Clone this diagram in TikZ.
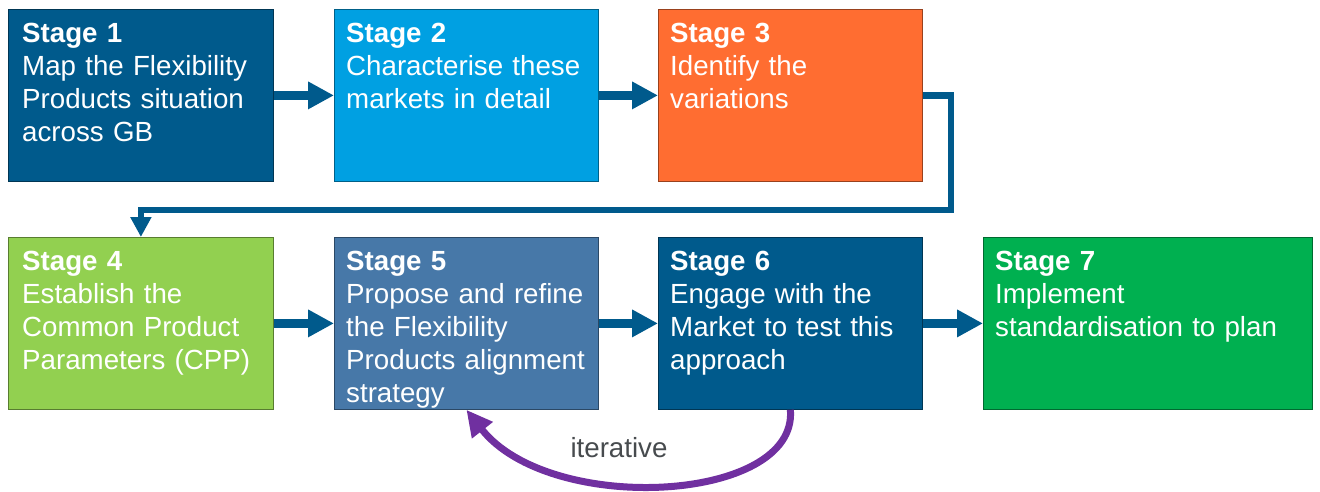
\documentclass[tikz,border=0pt]{standalone}
\usepackage{fontspec}
\setmainfont{Liberation Sans}
\usetikzlibrary{arrows.meta}
\definecolor{cDark}{HTML}{005A8C}
\definecolor{cLight}{HTML}{00A0E2}
\definecolor{cOrange}{HTML}{FF6D31}
\definecolor{cLime}{HTML}{92D050}
\definecolor{cSteel}{HTML}{4778A8}
\definecolor{cGreen}{HTML}{00B050}
\definecolor{cArrow}{HTML}{005A8C}
\definecolor{cPurple}{HTML}{7030A0}
\definecolor{cGray}{HTML}{474B4E}
\begin{document}
\begin{tikzpicture}[x=1pt,y=-1pt,
  stagebox/.style={draw=#1!60!black, fill=#1, line width=0.8pt, anchor=north west, inner sep=0pt, minimum height=172pt},
  stagetext/.style={anchor=north west, inner sep=0pt, text=white, text width=300pt, align=left, font=\fontsize{27.7}{33}\selectfont},
  flow/.style={draw=cArrow, line width=9pt, -{Triangle[length=26pt,width=26pt]}},
  conn/.style={draw=cArrow, line width=6.5pt, -{Triangle[length=20pt,width=20pt]}},
  iter/.style={draw=cPurple, line width=7pt, -{Triangle[length=26pt,width=25pt]}},
  itlabel/.style={anchor=base, inner sep=0pt, text=cGray, font=\fontsize{27.7}{33}\selectfont}]
\useasboundingbox (0,0) rectangle (1320,491);
% boxes
\node[stagebox=cDark, minimum width=265pt] (s1) at (8,9) {};
\node[stagebox=cLight, minimum width=264pt] (s2) at (334,9) {};
\node[stagebox=cOrange, minimum width=264pt] (s3) at (658,9) {};
\node[stagebox=cLime, minimum width=265pt] (s4) at (8,237) {};
\node[stagebox=cSteel, minimum width=264pt] (s5) at (334,237) {};
\node[stagebox=cDark, minimum width=264pt] (s6) at (658,237) {};
\node[stagebox=cGreen, minimum width=329pt] (s7) at (983,237) {};
% texts
\node[stagetext] (t1) at ([xshift=14pt]s1.north west) {\rule{0pt}{33pt}\textbf{Stage 1}\\Map the Flexibility\\Products situation\\across GB};
\node[stagetext] (t2) at ([xshift=12pt]s2.north west) {\rule{0pt}{33pt}\textbf{Stage 2}\\Characterise these\\markets in detail};
\node[stagetext] (t3) at ([xshift=12pt]s3.north west) {\rule{0pt}{33pt}\textbf{Stage 3}\\Identify the\\variations};
\node[stagetext] (t4) at ([xshift=14pt]s4.north west) {\rule{0pt}{33pt}\textbf{Stage 4}\\Establish the\\Common Product\\Parameters (CPP)};
\node[stagetext] (t5) at ([xshift=12pt]s5.north west) {\rule{0pt}{33pt}\textbf{Stage 5}\\Propose and refine\\the Flexibility\\Products alignment\\strategy};
\node[stagetext] (t6) at ([xshift=12pt]s6.north west) {\rule{0pt}{33pt}\textbf{Stage 6}\\Engage with the\\Market to test this\\approach};
\node[stagetext] (t7) at ([xshift=12pt]s7.north west) {\rule{0pt}{33pt}\textbf{Stage 7}\\Implement\\standardisation to plan};
% arrows
\draw[flow] (s1.east) -- (s2.west);
\draw[flow] (s2.east) -- (s3.west);
\draw[flow] (s4.east) -- (s5.west);
\draw[flow] (s5.east) -- (s6.west);
\draw[flow] (s6.east) -- (s7.west);
\coordinate (c1) at (951,210);
\draw[conn] (s3.east) -| (c1) -| (s4.north);
\draw[iter] (s6.south) .. controls (798,503) and (550,516) .. (s5.south);
\node[itlabel] (lit) at (619,457) {iterative};
\end{tikzpicture}
\end{document}
